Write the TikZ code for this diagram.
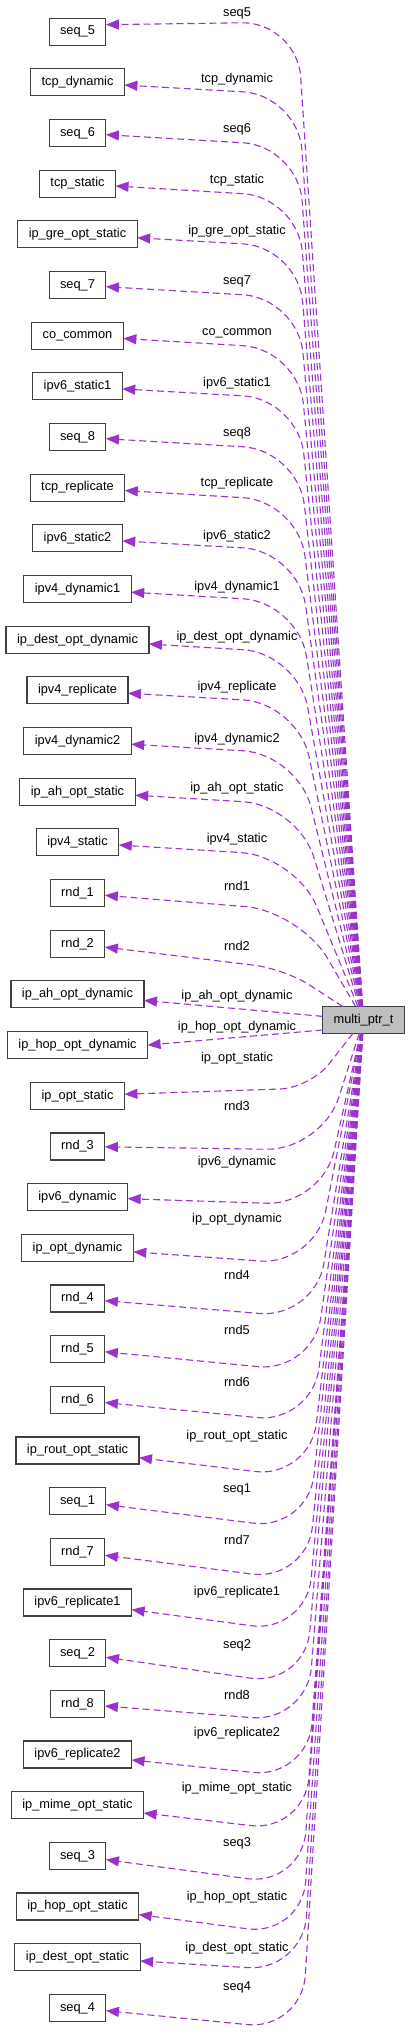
\documentclass[tikz,border=0pt]{standalone}
\usepackage{fontspec}
\setmainfont{Liberation Sans}
\usetikzlibrary{positioning}
\usetikzlibrary{arrows.meta}
\definecolor{edgecol}{HTML}{9A32CD}

\begin{document}
\begin{tikzpicture}
	[x=1pt, y=-1pt, node distance={23.67pt}, font=\fontsize{12.8}{14}\selectfont,
	 part/.style = {draw=black!75, line width=1.1pt, outer sep=0pt, minimum height=27pt, inner xsep=11pt, inner ysep=0pt, text height=9.2pt, text depth=2.7pt},
	 main/.style = {part, fill=black!25},
	 lbl/.style = {inner sep=0pt, text height=9.2pt, text depth=2.7pt},
	 link/.style = {draw=edgecol, line width=1.1pt, dash pattern=on 7pt off 4pt, rounded corners=55pt},
	 >={Triangle[length=13pt, width=10pt]}]
	\useasboundingbox (0,0) rectangle (411,2035);
	\node[part] (1) at (77.5,31.7) {seq\_5};
	\node[part] (2) [below=of 1] {tcp\_dynamic};
	\node[part] (3) [below=of 2] {seq\_6};
	\node[part] (4) [below=of 3] {tcp\_static};
	\node[part] (5) [below=of 4] {ip\_gre\_opt\_static};
	\node[part] (6) [below=of 5] {seq\_7};
	\node[part] (7) [below=of 6] {co\_common};
	\node[part] (8) [below=of 7] {ipv6\_static1};
	\node[part] (9) [below=of 8] {seq\_8};
	\node[part] (10) [below=of 9] {tcp\_replicate};
	\node[part] (11) [below=of 10] {ipv6\_static2};
	\node[part] (12) [below=of 11] {ipv4\_dynamic1};
	\node[part] (13) [below=of 12] {ip\_dest\_opt\_dynamic};
	\node[part] (14) [below=of 13] {ipv4\_replicate};
	\node[part] (15) [below=of 14] {ipv4\_dynamic2};
	\node[part] (16) [below=of 15] {ip\_ah\_opt\_static};
	\node[part] (17) [below=of 16] {ipv4\_static};
	\node[part] (18) [below=of 17] {rnd\_1};
	\node[part] (19) [below=of 18] {rnd\_2};
	\node[part] (20) [below=of 19] {ip\_ah\_opt\_dynamic};
	\node[part] (21) [below=of 20] {ip\_hop\_opt\_dynamic};
	\node[part] (22) [below=of 21] {ip\_opt\_static};
	\node[part] (23) [below=of 22] {rnd\_3};
	\node[part] (24) [below=of 23] {ipv6\_dynamic};
	\node[part] (25) [below=of 24] {ip\_opt\_dynamic};
	\node[part] (26) [below=of 25] {rnd\_4};
	\node[part] (27) [below=of 26] {rnd\_5};
	\node[part] (28) [below=of 27] {rnd\_6};
	\node[part] (29) [below=of 28] {ip\_rout\_opt\_static};
	\node[part] (30) [below=of 29] {seq\_1};
	\node[part] (31) [below=of 30] {rnd\_7};
	\node[part] (32) [below=of 31] {ipv6\_replicate1};
	\node[part] (33) [below=of 32] {seq\_2};
	\node[part] (34) [below=of 33] {rnd\_8};
	\node[part] (35) [below=of 34] {ipv6\_replicate2};
	\node[part] (36) [below=of 35] {ip\_mime\_opt\_static};
	\node[part] (37) [below=of 36] {seq\_3};
	\node[part] (38) [below=of 37] {ip\_hop\_opt\_static};
	\node[part] (39) [below=of 38] {ip\_dest\_opt\_static};
	\node[part] (40) [below=of 39] {seq\_4};
	\node[main] (0) at (363.5,1020) {multi\_ptr\_t};
	% members above the struct
	\draw[link, ->] (0) -- (297,22) -- ([yshift=7pt]1.east) node[lbl] at (237,13) {seq5};
	\draw[link, ->] (0) -- (298,95) -- (2) node[lbl] at (237,79) {tcp\_dynamic};
	\draw[link, ->] (0) -- (298,146) -- (3) node[lbl] at (237,129) {seq6};
	\draw[link, ->] (0) -- (298,197) -- (4) node[lbl] at (237,180) {tcp\_static};
	\draw[link, ->] (0) -- (298,247) -- (5) node[lbl] at (237,231) {ip\_gre\_opt\_static};
	\draw[link, ->] (0) -- (298,298) -- (6) node[lbl] at (237,281) {seq7};
	\draw[link, ->] (0) -- (298,349) -- (7) node[lbl] at (237,332) {co\_common};
	\draw[link, ->] (0) -- (298,399) -- (8) node[lbl] at (237,383) {ipv6\_static1};
	\draw[link, ->] (0) -- (298,450) -- (9) node[lbl] at (237,433) {seq8};
	\draw[link, ->] (0) -- (298,501) -- (10) node[lbl] at (237,483) {tcp\_replicate};
	\draw[link, ->] (0) -- (298,551) -- (11) node[lbl] at (237,536) {ipv6\_static2};
	\draw[link, ->] (0) -- (298,602) -- (12) node[lbl] at (237,587) {ipv4\_dynamic1};
	\draw[link, ->] (0) -- (298,653) -- (13) node[lbl] at (237,637) {ip\_dest\_opt\_dynamic};
	\draw[link, ->] (0) -- (298,703) -- (14) node[lbl] at (237,687) {ipv4\_replicate};
	\draw[link, ->] (0) -- (298,754) -- (15) node[lbl] at (237,739) {ipv4\_dynamic2};
	\draw[link, ->] (0) -- (298,805) -- (16) node[lbl] at (237,788) {ip\_ah\_opt\_static};
	\draw[link, ->] (0) -- (296,856) -- (17) node[lbl] at (237,839) {ipv4\_static};
	\draw[link, ->] (0) -- (300,911) -- (18) node[lbl] at (237,887) {rnd1};
	\draw[link, ->, rounded corners=30pt] (0) -- (285,969) -- (19) node[lbl] at (237,947) {rnd2};
	\draw[link, ->] (0) -- (20) node[lbl] at (237,996) {ip\_ah\_opt\_dynamic};
	\draw[link, ->] ([yshift=-10pt]0.west) -- (21.east) node[lbl] at (237,1027) {ip\_hop\_opt\_dynamic};
	% members below the struct
	\draw[link, ->, rounded corners=30pt] (0) -- (310,1088) -- (22) node[lbl] at (237,1058) {ip\_opt\_static};
	\draw[link, ->] (0) -- (322,1150) -- (23) node[lbl] at (237,1107) {rnd3};
	\draw[link, ->] (0) -- (322,1205) -- (24) node[lbl] at (237,1162) {ipv6\_dynamic};
	\draw[link, ->] (0) -- (315,1265) -- (25) node[lbl] at (237,1219) {ip\_opt\_dynamic};
	\draw[link, ->] (0) -- (315,1318) -- (26) node[lbl] at (237,1276) {rnd4};
	\draw[link, ->] (0) -- (313,1372) -- (27) node[lbl] at (237,1331) {rnd5};
	\draw[link, ->] (0) -- (312,1423) -- (28) node[lbl] at (237,1383) {rnd6};
	\draw[link, ->] (0) -- (310,1478) -- (29) node[lbl] at (237,1436) {ip\_rout\_opt\_static};
	\draw[link, ->] (0) -- (308,1530) -- (30) node[lbl] at (237,1489) {seq1};
	\draw[link, ->] (0) -- (307,1581) -- (31) node[lbl] at (237,1541) {rnd7};
	\draw[link, ->] (0) -- (306,1633) -- (32) node[lbl] at (237,1592) {ipv6\_replicate1};
	\draw[link, ->] (0) -- (305,1686) -- (33) node[lbl] at (237,1645) {seq2};
	\draw[link, ->] (0) -- (307,1722) -- (34) node[lbl] at (237,1696) {rnd8};
	\draw[link, ->] (0) -- (308,1778) -- (35) node[lbl] at (237,1733) {ipv6\_replicate2};
	\draw[link, ->] (0) -- (305,1832) -- (36) node[lbl] at (237,1788) {ip\_mime\_opt\_static};
	\draw[link, ->] (0) -- (302,1886) -- (37) node[lbl] at (237,1843) {seq3};
	\draw[link, ->] (0) -- (302,1936) -- (38) node[lbl] at (237,1897) {ip\_hop\_opt\_static};
	\draw[link, ->] (0) -- (303,1971) -- (39) node[lbl] at (237,1948) {ip\_dest\_opt\_static};
	\draw[link, ->] (0) -- (302,2030) -- (40) node[lbl] at (237,1987) {seq4};
\end{tikzpicture}
\end{document}
